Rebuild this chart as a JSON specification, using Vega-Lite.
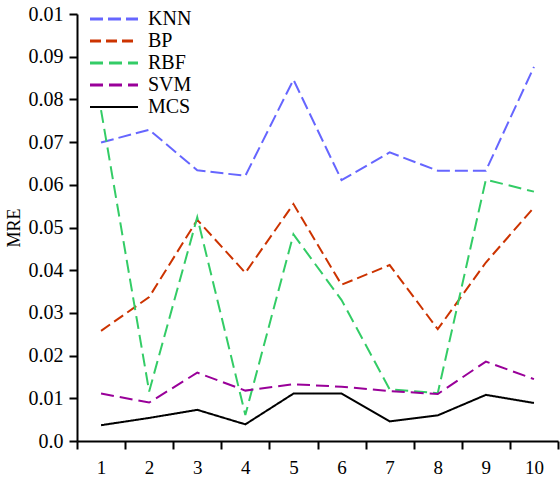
{
  "$schema": "https://vega.github.io/schema/vega-lite/v6.json",
  "width": 481,
  "height": 427,
  "autosize": {"type": "none"},
  "padding": {"left": 77, "top": 14, "right": 2, "bottom": 41},
  "background": "white",
  "config": {"view": {"stroke": null}, "font": "Liberation Serif"},
  "data": {"values": [
    {"x": 1, "model": "KNN", "mre": 0.0699},
    {"x": 2, "model": "KNN", "mre": 0.0729},
    {"x": 3, "model": "KNN", "mre": 0.0634},
    {"x": 4, "model": "KNN", "mre": 0.0621},
    {"x": 5, "model": "KNN", "mre": 0.0846},
    {"x": 6, "model": "KNN", "mre": 0.0611},
    {"x": 7, "model": "KNN", "mre": 0.0676},
    {"x": 8, "model": "KNN", "mre": 0.0633},
    {"x": 9, "model": "KNN", "mre": 0.0633},
    {"x": 10, "model": "KNN", "mre": 0.0876},
    {"x": 1, "model": "BP", "mre": 0.0258},
    {"x": 2, "model": "BP", "mre": 0.0337},
    {"x": 3, "model": "BP", "mre": 0.0518},
    {"x": 4, "model": "BP", "mre": 0.0394},
    {"x": 5, "model": "BP", "mre": 0.0555},
    {"x": 6, "model": "BP", "mre": 0.0366},
    {"x": 7, "model": "BP", "mre": 0.0412},
    {"x": 8, "model": "BP", "mre": 0.0262},
    {"x": 9, "model": "BP", "mre": 0.0418},
    {"x": 10, "model": "BP", "mre": 0.0547},
    {"x": 1, "model": "RBF", "mre": 0.0775},
    {"x": 2, "model": "RBF", "mre": 0.0116},
    {"x": 3, "model": "RBF", "mre": 0.0524},
    {"x": 4, "model": "RBF", "mre": 0.0061},
    {"x": 5, "model": "RBF", "mre": 0.0484},
    {"x": 6, "model": "RBF", "mre": 0.0330},
    {"x": 7, "model": "RBF", "mre": 0.0121},
    {"x": 8, "model": "RBF", "mre": 0.0112},
    {"x": 9, "model": "RBF", "mre": 0.0612},
    {"x": 10, "model": "RBF", "mre": 0.0584},
    {"x": 1, "model": "SVM", "mre": 0.0111},
    {"x": 2, "model": "SVM", "mre": 0.0090},
    {"x": 3, "model": "SVM", "mre": 0.0160},
    {"x": 4, "model": "SVM", "mre": 0.0118},
    {"x": 5, "model": "SVM", "mre": 0.0133},
    {"x": 6, "model": "SVM", "mre": 0.0127},
    {"x": 7, "model": "SVM", "mre": 0.0117},
    {"x": 8, "model": "SVM", "mre": 0.0110},
    {"x": 9, "model": "SVM", "mre": 0.0186},
    {"x": 10, "model": "SVM", "mre": 0.0145},
    {"x": 1, "model": "MCS", "mre": 0.0037},
    {"x": 2, "model": "MCS", "mre": 0.0054},
    {"x": 3, "model": "MCS", "mre": 0.0073},
    {"x": 4, "model": "MCS", "mre": 0.0039},
    {"x": 5, "model": "MCS", "mre": 0.0111},
    {"x": 6, "model": "MCS", "mre": 0.0111},
    {"x": 7, "model": "MCS", "mre": 0.0046},
    {"x": 8, "model": "MCS", "mre": 0.0060},
    {"x": 9, "model": "MCS", "mre": 0.0108},
    {"x": 10, "model": "MCS", "mre": 0.0089}
  ]},
  "mark": {"type": "line", "strokeWidth": 2, "clip": false},
  "encoding": {
    "x": {
      "field": "x", "type": "quantitative",
      "scale": {"domain": [0.5, 10.5], "nice": false, "zero": false},
      "axis": {
        "values": [0.5, 1.5, 2.5, 3.5, 4.5, 5.5, 6.5, 7.5, 8.5, 9.5, 10.5],
        "labelExpr": "datum.value > 10 ? '' : format(datum.value + 0.5, 'd')",
        "labelOffset": 24,
        "labelOverlap": false,
        "labelFlush": false,
        "labelBound": false,
        "title": null,
        "grid": false,
        "domainColor": "black", "domainWidth": 2,
        "tickColor": "black", "tickWidth": 2, "tickSize": 8,
        "labelFont": "Liberation Serif", "labelFontSize": 19, "labelColor": "black",
        "labelPadding": 9
      }
    },
    "y": {
      "field": "mre", "type": "quantitative",
      "scale": {"domain": [0, 0.1], "nice": false},
      "axis": {
        "values": [0, 0.01, 0.02, 0.03, 0.04, 0.05, 0.06, 0.07, 0.08, 0.09, 0.1],
        "labelExpr": "datum.value == 0 ? '0.0' : (datum.value > 0.095 ? '0.01' : format(datum.value, '.2f'))",
        "labelOverlap": false,
        "labelFlush": false,
        "title": "MRE",
        "titleFont": "Liberation Serif", "titleFontSize": 18, "titleFontWeight": "normal", "titleColor": "black",
        "titlePadding": 5,
        "grid": false,
        "domainColor": "black", "domainWidth": 2,
        "tickColor": "black", "tickWidth": 2, "tickSize": 8,
        "labelFont": "Liberation Serif", "labelFontSize": 20, "labelColor": "black",
        "labelPadding": 6
      }
    },
    "color": {
      "field": "model", "type": "nominal",
      "scale": {"domain": ["KNN", "BP", "RBF", "SVM", "MCS"], "range": ["#6666FF", "#CC3300", "#33CC66", "#990099", "#000000"]},
      "legend": {
        "title": null,
        "orient": "none",
        "legendX": 27,
        "legendY": -5,
        "padding": 0,
        "symbolType": "stroke",
        "symbolSize": 2304,
        "symbolStrokeWidth": 3,
        "rowPadding": 2,
        "labelOffset": 24,
        "labelFont": "Liberation Serif", "labelFontSize": 20, "labelColor": "black",
        "encode": {
          "symbols": {
            "update": {
              "stroke": {"signal": "datum.value === 'RBF' ? '#009933' : scale('color', datum.value)"},
              "strokeDash": {"signal": "datum.value === 'MCS' ? [1, 0] : [20, 5]"},
              "strokeWidth": {"signal": "datum.value === 'MCS' ? 2 : 3"}
            }
          }
        }
      }
    },
    "strokeDash": {
      "field": "model", "type": "nominal",
      "scale": {"domain": ["KNN", "BP", "RBF", "SVM", "MCS"], "range": [[13, 5], [11, 5], [13, 6], [13, 6], [1, 0]]},
      "legend": null
    }
  }
}
